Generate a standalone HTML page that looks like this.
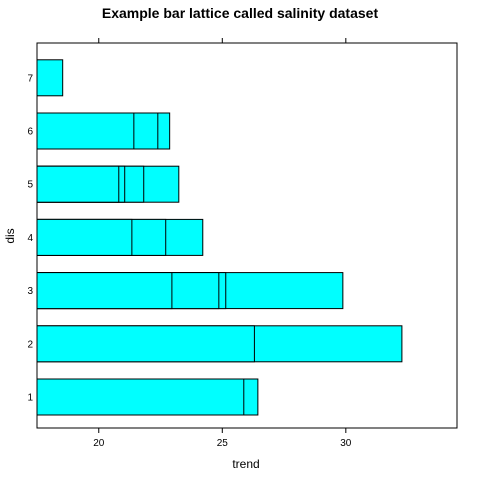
<!DOCTYPE html>
<html><head><meta charset="utf-8"><style>body{margin:0;background:#fff}svg{display:block}text{font-family:"Liberation Sans",sans-serif}</style></head>
<body>
<svg id="c" width="480" height="480">
<text x="240" y="18" text-anchor="middle" font-size="14" font-weight="bold">Example bar lattice called salinity dataset</text>
<text x="246" y="468" text-anchor="middle" font-size="12">trend</text>
<text x="14" y="236" text-anchor="middle" font-size="12" transform="rotate(-90 14 236)">dis</text>
<g id="bars"></g>
<g id="axes"></g>
<rect x="37" y="43" width="420" height="385" fill="none" stroke="#000"/>
</svg>
<script>
const categories = ["1","2","3","4","5","6","7"];
const seriesValues = [
  [25.87, 26.44],
  [26.3, 32.27],
  [22.96, 24.86, 25.14, 29.88],
  [21.34, 22.71, 24.21],
  [20.81, 21.05, 21.82, 23.24],
  [21.42, 22.39, 22.87],
  [18.54]
];
const xTicks = [20, 25, 30];
const xMin = 17.5, xMax = 34.5;
const L = 37, R = 457, T = 43, B = 428;
const ns = "http://www.w3.org/2000/svg";
function xs(v){ return L + (v - xMin) / (xMax - xMin) * (R - L); }
function ys(i){ return 397 - i * 53.2; }
const bh = 36;
const bars = document.getElementById('bars');
const axes = document.getElementById('axes');
categories.forEach((c, i) => {
  const vals = seriesValues[i].slice().sort((a,b)=>b-a);
  vals.forEach((v, j) => {
    const r = document.createElementNS(ns, 'rect');
    r.setAttribute('x', xs(xMin)); r.setAttribute('y', ys(i) - bh/2);
    r.setAttribute('width', xs(v) - xs(xMin)); r.setAttribute('height', bh);
    r.setAttribute('fill', '#00ffff'); r.setAttribute('stroke', '#000'); r.setAttribute('stroke-width', '1');
    
    
    bars.appendChild(r);
  });
  const lb = document.createElementNS(ns, 'text');
  lb.setAttribute('x', 33); lb.setAttribute('y', ys(i) + 3.5); lb.setAttribute('text-anchor', 'end'); lb.setAttribute('font-size', '10');
  lb.textContent = c;
  
  
  axes.appendChild(lb);
});
xTicks.forEach(v => {
  [[B, B + 5], [T - 5, T]].forEach(p => {
    const t = document.createElementNS(ns, 'line');
    t.setAttribute('x1', xs(v)); t.setAttribute('x2', xs(v)); t.setAttribute('y1', p[0]); t.setAttribute('y2', p[1]); t.setAttribute('stroke', '#000');
    
    
    axes.appendChild(t);
  });
  const lb = document.createElementNS(ns, 'text');
  lb.setAttribute('x', xs(v)); lb.setAttribute('y', B + 18); lb.setAttribute('text-anchor', 'middle'); lb.setAttribute('font-size', '10');
  lb.textContent = v;
  
  
  axes.appendChild(lb);
});
</script>
</body></html>
